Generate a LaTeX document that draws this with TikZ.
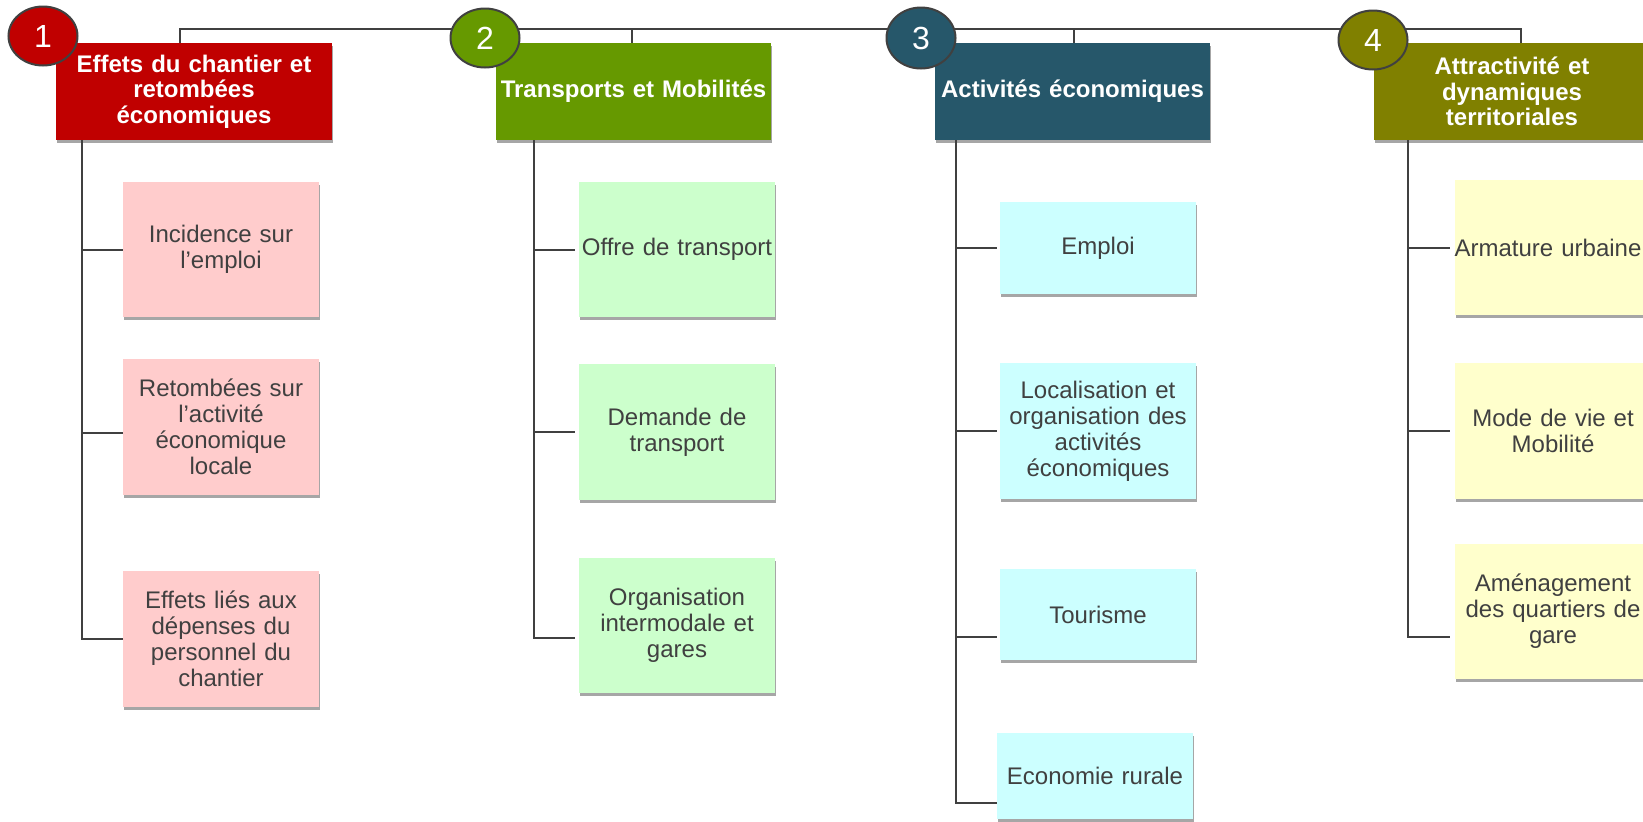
\documentclass[tikz,border=0pt]{standalone}
\usepackage{fontspec}
\setmainfont{Liberation Sans}
\usetikzlibrary{shapes.geometric,shadows}
\definecolor{lineg}{HTML}{404040}
\definecolor{txtg}{HTML}{404040}
\definecolor{hred}{HTML}{C00000}
\definecolor{hgreen}{HTML}{669900}
\definecolor{hteal}{HTML}{26576A}
\definecolor{holive}{HTML}{808000}
\definecolor{spink}{HTML}{FFCCCC}
\definecolor{sgreen}{HTML}{CCFFCC}
\definecolor{scyan}{HTML}{CCFFFF}
\definecolor{syellow}{HTML}{FFFFCC}
\tikzset{
  shade/.style={drop shadow={shadow xshift=0.6pt, shadow yshift=-1.6pt, opacity=0.35, fill=black}},
  headbox/.style={rectangle, inner sep=0pt, minimum height=48.5pt, text=white,
    font=\bfseries\fontsize{12}{12.75}\selectfont, align=center, text width=135pt, shade},
  subbox/.style={rectangle, inner sep=0pt, minimum width=98pt, text=txtg,
    font=\fontsize{12}{13}\selectfont, align=center, text width=96pt, shade},
  numdisc/.style={ellipse, draw=lineg, line width=1pt, inner sep=0pt,
    minimum width=34.5pt, minimum height=29.5pt, text=white,
    font=\fontsize{16}{16}\selectfont},
  conn/.style={draw=lineg, line width=1pt},
}
\begin{document}
\begin{tikzpicture}[x=0.5pt, y=-0.5pt]
\useasboundingbox (0,0) rectangle (1643,821);
\fill[white] (0,0) rectangle (1643,821);

% coordinates for the top bus and trunks
\coordinate (t1) at (180,29);
\coordinate (t2) at (632,29);
\coordinate (t3) at (1074,29);
\coordinate (t4) at (1521,29);
\coordinate (tr1) at (82,0);
\coordinate (tr2) at (534,0);
\coordinate (tr3) at (956,0);
\coordinate (tr4) at (1408,0);

% headers
\node[headbox, fill=hred, minimum width=138pt] (h1) at (194,91.5) {Effets du chantier et\\retombées\\économiques};
\node[headbox, fill=hgreen, minimum width=137.5pt] (h2) at (633.5,91.5) {Transports et Mobilités};
\node[headbox, fill=hteal, minimum width=137.5pt] (h3) at (1072.5,91.5) {Activités économiques};
\node[headbox, fill=holive, minimum width=138pt] (h4) at (1512,91.5) {Attractivité et\\dynamiques\\territoriales};

% sub boxes column 1
\node[subbox, fill=spink, minimum height=67.5pt] (a1) at (221,249.5) {Incidence sur\\l’emploi};
\node[subbox, fill=spink, minimum height=68pt] (a2) at (221,427) {Retombées sur\\l'activité\\économique\\locale};
\node[subbox, fill=spink, minimum height=68pt] (a3) at (221,639) {Effets liés aux\\dépenses du\\personnel du\\chantier};
% column 2
\node[subbox, fill=sgreen, minimum height=67.5pt] (b1) at (677,249.5) {Offre de transport};
\node[subbox, fill=sgreen, minimum height=68pt] (b2) at (677,432) {Demande de\\transport};
\node[subbox, fill=sgreen, minimum height=67.5pt] (b3) at (677,625.5) {Organisation\\intermodale et\\gares};
% column 3
\node[subbox, fill=scyan, minimum height=46pt] (c1) at (1098,248) {Emploi};
\node[subbox, fill=scyan, minimum height=68pt] (c2) at (1098,431) {Localisation et\\organisation des\\activités\\économiques};
\node[subbox, fill=scyan, minimum height=45.5pt] (c3) at (1098,614.5) {Tourisme};
\node[subbox, fill=scyan, minimum height=43pt] (c4) at (1095,776) {Economie rurale};
% column 4
\node[subbox, fill=syellow, minimum height=67.5pt] (d1) at (1553,247.5) {\makebox[96pt]{\hspace*{-5pt}Armature urbaine}};
\node[subbox, fill=syellow, minimum height=68pt] (d2) at (1553,431) {Mode de vie et\\Mobilité};
\node[subbox, fill=syellow, minimum height=67.5pt] (d3) at (1553,611.5) {Aménagement\\des quartiers de\\gare};

% top bus
\draw[conn] (h1.north -| t1) -- (t1) -- (t4) -- (h4.north -| t4);
\draw[conn] (t2) -- (h2.north -| t2);
\draw[conn] (t3) -- (h3.north -| t3);

% trunks and branches
\draw[conn] (h1.south -| tr1) |- (a1.west);
\draw[conn] (h1.south -| tr1) |- ([yshift=-3pt]a2.west);
\draw[conn] (h1.south -| tr1) |- (a3.west);

\draw[conn, shorten >=2pt] (h2.south -| tr2) |- (b1.west);
\draw[conn, shorten >=2pt] (h2.south -| tr2) |- (b2.west);
\draw[conn, shorten >=2pt] (h2.south -| tr2) |- ([yshift=-6.25pt]b3.west);

\draw[conn, shorten >=1.5pt] (h3.south -| tr3) |- (c1.west);
\draw[conn, shorten >=1.5pt] (h3.south -| tr3) |- (c2.west);
\draw[conn, shorten >=1.5pt] (h3.south -| tr3) |- ([yshift=-11.25pt]c3.west);
\draw[conn] (h3.south -| tr3) |- ([yshift=-13.5pt]c4.west);

\draw[conn, shorten >=2.5pt] (h4.south -| tr4) |- (d1.west);
\draw[conn, shorten >=2.5pt] (h4.south -| tr4) |- (d2.west);
\draw[conn, shorten >=2.5pt] (h4.south -| tr4) |- ([yshift=-12.75pt]d3.west);

% number discs
\node[numdisc, fill=hred] (n1) at (43,36) {1};
\node[numdisc, fill=hgreen] (n2) at (485,38) {2};
\node[numdisc, fill=hteal, minimum height=30.5pt] (n3) at (921,38) {3};
\node[numdisc, fill=holive] (n4) at (1373,40) {4};
\end{tikzpicture}
\end{document}
